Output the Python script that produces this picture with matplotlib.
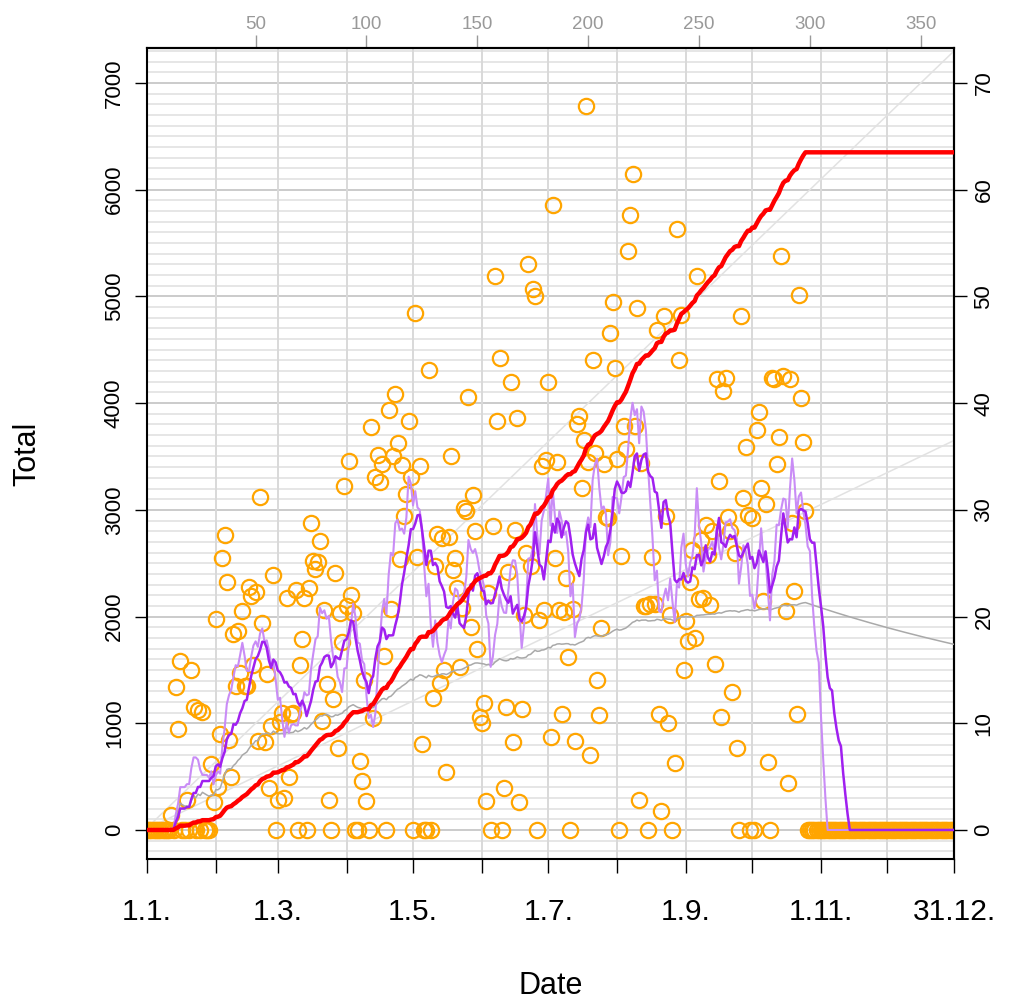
import numpy as np
import matplotlib
matplotlib.use('Agg')
import matplotlib.pyplot as plt

plt.rcParams['font.family'] = ['Liberation Sans', 'DejaVu Sans']

# daily totals, day of year -> value (days not listed are 0)
jan_days = [12, 14, 15, 16, 19, 21, 22, 24, 26, 30, 31]
jan_vals = [140, 1340, 950, 1585, 280, 1495, 1150, 1125, 1110, 620, 265]
feb_days = [32, 33, 34, 35, 36, 37, 38, 39, 40, 41, 42, 43, 44, 45, 46, 47, 48, 49, 50,
            51, 52, 53, 54, 55, 56, 57, 58]
feb_vals = [1975, 405, 900, 2550, 2760, 2320, 845, 500, 1835, 1350, 1860, 1470, 2050, 1350,
            1350, 2280, 2190, 1545, 2230, 835, 3120, 1935, 825, 1465, 390, 970, 2390]
mar_days = [60, 61, 62, 63, 64, 65, 66, 67, 68, 70, 71, 72, 74, 75, 76, 77, 78, 79, 80, 81,
            82, 83, 85, 86, 87, 88, 89, 90]
mar_vals = [280, 1015, 1095, 300, 2170, 500, 1090, 1100, 2250, 1545, 1790, 2170, 2270, 2875,
            2525, 2445, 2515, 2705, 1020, 2060, 1370, 280, 1225, 2410, 770, 2030, 1765, 3225]
apr_days = [91, 92, 93, 94, 97, 98, 99, 100, 102, 103, 104, 105, 106, 107, 108, 110, 111,
            112, 113, 114, 115, 116, 117, 118, 119, 120]
apr_vals = [2100, 3460, 2200, 2030, 650, 460, 1410, 275, 3775, 1045, 3305, 3515, 3265, 3430,
            1630, 3940, 2070, 3505, 4090, 3630, 2535, 3420, 2945, 3145, 3830, 3310]
may_days = [122, 123, 124, 125, 128, 130, 131, 132, 133, 134, 135, 136, 137, 138, 139, 140,
            141, 142, 143, 144, 145, 146, 147, 148, 149, 150, 151]
may_vals = [4845, 2560, 3410, 805, 4310, 1235, 2475, 2775, 1375, 2735, 1500, 540, 2750, 3505,
            2440, 2545, 2265, 1530, 2080, 3015, 2985, 4060, 1905, 3140, 2800, 1700, 1055]
jun_days = [152, 153, 154, 155, 157, 158, 159, 160, 162, 163, 164, 165, 166, 167, 168, 169,
            170, 171, 172, 173, 174, 175, 176, 178, 179, 180, 181]
jun_vals = [1000, 1190, 275, 2220, 2845, 5195, 3830, 4420, 395, 1155, 2420, 4195, 820, 2815,
            3865, 265, 1130, 2015, 2600, 5305, 2475, 5070, 5000, 1970, 3410, 2060, 3470]
jul_days = [182, 183, 184, 185, 186, 187, 188, 189, 190, 191, 193, 194, 195, 196, 197, 198,
            199, 200, 201, 202, 203, 204, 205, 206, 207, 208, 209, 210, 211, 212]
jul_vals = [4200, 875, 5855, 2545, 3445, 2060, 1090, 2045, 2360, 1625, 2070, 835, 3805, 3875,
            3205, 3650, 6780, 3445, 705, 4405, 3530, 1405, 1075, 1890, 3430, 2935, 2925, 4660,
            4950, 4330]
aug_days = [213, 215, 216, 217, 218, 219, 220, 221, 222, 223, 224, 225, 226, 228, 229, 230,
            231, 232, 233, 234, 235, 236, 237, 239, 240, 241, 242, 243]
aug_vals = [3475, 2570, 3790, 3570, 5430, 5765, 6150, 3790, 4895, 280, 3440, 2100, 2100, 2120,
            2555, 2120, 4690, 1090, 180, 4820, 2945, 1005, 2015, 625, 5630, 4405, 4830, 1500]
sep_days = [244, 245, 246, 247, 248, 249, 250, 251, 252, 253, 254, 255, 256, 257, 258, 259,
            260, 261, 262, 263, 264, 265, 266, 267, 269, 270, 271, 272]
sep_vals = [1955, 1775, 2320, 2625, 1795, 5195, 2160, 2720, 2170, 2860, 2580, 2110, 2800, 1560,
            4230, 3270, 1060, 4115, 4240, 2930, 2800, 1295, 2600, 765, 4820, 3115, 3585, 2955]
oct_days = [274, 276, 277, 278, 279, 280, 281, 283, 284, 285, 286, 287, 288, 289, 290, 291,
            292, 293, 294, 295, 296, 297, 298]
oct_vals = [2920, 3750, 3920, 3205, 2150, 3055, 640, 4240, 4230, 3430, 3685, 5380, 4250, 2050,
            440, 4230, 2880, 2240, 1090, 5015, 4050, 3640, 2990]

month_starts = [1, 32, 60, 91, 121, 152, 182, 213, 244, 274, 305, 335, 365]
date_ticks = {1: '1.1.', 60: '1.3.', 121: '1.5.', 182: '1.7.', 244: '1.9.', 305: '1.11.', 365: '31.12.'}
top_ticks = [50, 100, 150, 200, 250, 300, 350]
target_per_day = [20, 10]   # guide lines

# build the daily series
day = np.arange(1, 366)
total = np.zeros(365)
for ds, vs in [(jan_days, jan_vals), (feb_days, feb_vals), (mar_days, mar_vals),
               (apr_days, apr_vals), (may_days, may_vals), (jun_days, jun_vals),
               (jul_days, jul_vals), (aug_days, aug_vals), (sep_days, sep_vals),
               (oct_days, oct_vals)]:
    for d, v in zip(ds, vs):
        total[d - 1] = v

cum = np.cumsum(total)
mean_so_far = cum / day

def trailing_mean(x, n):
    return np.convolve(x, np.ones(n) / n)[:len(x)]

m10 = trailing_mean(total, 10)
m20 = trailing_mean(total, 20)

fig = plt.figure(figsize=(10.22, 9.99), dpi=100)
ax = fig.add_axes([147 / 1022, 140 / 999, 807 / 1022, 811 / 999])
ax.set_xlim(1, 365)
ax.set_ylim(-272, 7328)

# grid
ax.hlines(np.arange(-200, 7400, 100), 1, 365, color='#e6e6e6', lw=1.4, zorder=0)
ax.hlines(np.arange(0, 8000, 1000), 1, 365, color='#cccccc', lw=1.4, zorder=0.1)
ax.vlines(month_starts, -272, 7328, color='#d9d9d9', lw=1.4, zorder=0.1)

for k in target_per_day:
    ax.plot([0, 365], [0, 365 * k], color='#e2e2e2', lw=1.1, zorder=1)

ax.plot(day, total, 'o', mfc='none', mec='#FFA500', ms=11, mew=1.6, zorder=2)
ax.plot(day, mean_so_far, color='#a9a9a9', lw=1.1, zorder=3)
ax.plot(day, m10, color='#c98cf6', lw=1.5, zorder=4)
ax.plot(day, m20, color='#a020f0', lw=1.8, zorder=5)
ax.plot(day, cum / 100, color='#ff0000', lw=3.2, zorder=6)

for s in ax.spines.values():
    s.set_linewidth(1.5)
    s.set_color('black')

# left axis
ax.set_yticks(range(0, 8000, 1000))
ax.tick_params(axis='y', length=9, width=1, labelsize=16, pad=7)
plt.setp(ax.get_yticklabels(), rotation=90, va='center')

# bottom axis
ax.set_xticks(month_starts)
ax.set_xticklabels([date_ticks.get(m, '') for m in month_starts])
ax.tick_params(axis='x', length=10, width=1, labelsize=21.5, pad=18)

# right axis
sec_y = ax.secondary_yaxis('right', functions=(lambda v: v / 100, lambda v: v * 100))
sec_y.set_yticks(range(0, 80, 10))
sec_y.tick_params(length=9, width=1, labelsize=16, pad=5)
plt.setp(sec_y.get_yticklabels(), rotation=90, va='center')
sec_y.spines['right'].set_linewidth(1.5)

# top axis (day number)
sec_x = ax.secondary_xaxis('top', functions=(lambda d: d, lambda d: d))
sec_x.set_xticks(top_ticks)
sec_x.tick_params(length=9.5, width=1, labelsize=13.5, pad=1.5, colors='#999999')
sec_x.spines['top'].set_linewidth(1.5)
sec_x.spines['top'].set_color('black')

fig.text(551 / 1022, 1 - 986 / 999, 'Date', ha='center', va='center', fontsize=22)
fig.text(27 / 1022, 1 - 454 / 999, 'Total', ha='center', va='center', fontsize=22, rotation=90)

fig.savefig('out.png', dpi=100)
